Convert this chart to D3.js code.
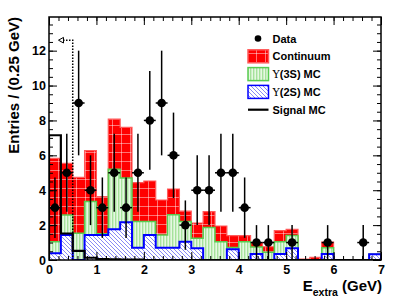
<!DOCTYPE html>
<html>
<head>
<meta charset="utf-8">
<script src="https://cdn.jsdelivr.net/npm/d3@7"></script>
<style>
  body { margin: 0; background: #fff; }
  svg text { font-family: "Liberation Sans", Arial, Helvetica, sans-serif; font-weight: bold; }
</style>
</head>
<body>
<svg id="chart" width="407" height="297"></svg>
<script>
// bin lower edges in GeV, 0.25 GeV wide
var binWidth = 0.25;
var binEdges = d3.range(28).map(function(i){ return i * binWidth; });

// observed events per bin
var dataCounts = [3,5,9,4,3,5,3,5,8,9,6,2,4,4,5,5,3,1,1,0,1,0,0,1,0,0,1,0];
// stacked backgrounds (components)
var continuum = [4.78,2.96,3.21,2.92,2.13,2.87,2.9,2.23,2.33,2.01,1.47,0.6,0.88,0.9,0.9,0.68,0.35,0.25,0.31,0.63,0.36,0.05,0.15,0.33,0,0,0,0];
var ups3S    = [0.67,1.15,1.53,1.92,0.07,3.44,2.54,1.5,0.77,0.73,1.9,1.15,0.57,1.87,1.05,0.1,1.05,0.4,0.45,0.7,0.73,0,0,0.35,0,0,0,0];
var ups2S    = [0.38,1.43,0,1.43,1.43,1.76,2.16,0.7,1.43,0.7,0.7,1.05,0.67,0,0,0.62,0,0.35,0,0.35,0.67,0,0,0.35,0,0,0,0.33];
var signalMC = [7.15,1.52,0.52,0.13,0.05,0.04,0.03,0.02,0,0,0,0,0,0,0,0,0,0,0,0,0,0,0,0,0,0,0,0];

var xTicks = [0,1,2,3,4,5,6,7];
var yTicks = [0,2,4,6,8,10,12];
var cutValue = 0.5, cutTop = 12.6, arrowEnd = 0.2;

var svg = d3.select('#chart');
var fLeft = 49, fRight = 381, fTop = 17, fBottom = 260;
var x = d3.scaleLinear().domain([0,7]).range([fLeft,fRight]);
var y = d3.scaleLinear().domain([0,13.93]).range([fBottom,fTop]);

// patterns
var defs = svg.append('defs');
var pRed = defs.append('pattern').attr('id','pRed').attr('patternUnits','userSpaceOnUse')
  .attr('width',9).attr('height',9).attr('x',fLeft).attr('y',fBottom);
pRed.append('rect').attr('width',9).attr('height',9).attr('fill','#ff0000');
pRed.append('path').attr('d','M0.5,0V9M0,0.5H9').attr('stroke','#ffffff').attr('stroke-opacity',0.45).attr('stroke-width',1);

var pGreen = defs.append('pattern').attr('id','pGreen').attr('patternUnits','userSpaceOnUse')
  .attr('width',3).attr('height',3).attr('x',fLeft);
pGreen.append('rect').attr('width',3).attr('height',3).attr('fill','#e6f8e2');
pGreen.append('rect').attr('width',1.4).attr('height',3).attr('fill','#a6e29c');

var pBlue = defs.append('pattern').attr('id','pBlue').attr('patternUnits','userSpaceOnUse')
  .attr('width',4).attr('height',4).attr('x',fLeft).attr('y',fBottom);
pBlue.append('rect').attr('width',4).attr('height',4).attr('fill','#ffffff');
pBlue.append('path').attr('d','M-1,-1L5,5M-1,3L1,5M3,-1L5,1').attr('stroke','#7a7af4').attr('stroke-width',0.9);

svg.append('clipPath').attr('id','frameClip').append('rect')
  .attr('x',fLeft).attr('y',fTop).attr('width',fRight-fLeft).attr('height',fBottom-fTop);

var plot = svg.append('g').attr('clip-path','url(#frameClip)');

function histPoints(vals){
  var pts = [[0,0]];
  vals.forEach(function(v,i){ pts.push([binEdges[i], v]); });
  pts.push([7, vals[vals.length-1]]);
  pts.push([7, 0]);
  return pts;
}
var area = d3.area().curve(d3.curveStepAfter)
  .x(function(d){return x(d[0]);}).y0(y(0)).y1(function(d){return y(d[1]);});
var line = d3.line().curve(d3.curveStepAfter)
  .x(function(d){return x(d[0]);}).y(function(d){return y(d[1]);});

var green = ups3S.map(function(v,i){ return v + ups2S[i]; });
var total = continuum.map(function(v,i){ return v + green[i]; });

var layers = [
  {vals: total, fill: 'url(#pRed)', stroke: '#ff5a5a', sw: 1.2},
  {vals: green, fill: 'url(#pGreen)', stroke: '#58cc50', sw: 1.5},
  {vals: ups2S, fill: 'url(#pBlue)', stroke: '#0000ff', sw: 2}
];
layers.forEach(function(l){
  var pts = histPoints(l.vals);
  plot.append('path').attr('d', area(pts)).attr('fill', l.fill);
  plot.append('path').attr('d', line(pts)).attr('fill','none')
    .attr('stroke', l.stroke).attr('stroke-width', l.sw);
});

// signal MC outline
plot.append('path').attr('d', line(histPoints(signalMC))).attr('fill','none')
  .attr('stroke','#000').attr('stroke-width',2.2);

// cut line with arrow
plot.append('path')
  .attr('d', 'M'+x(cutValue)+','+y(0)+'V'+y(cutTop)+'H'+(x(arrowEnd)+5))
  .attr('fill','none').attr('stroke','#000').attr('stroke-width',1.5).attr('stroke-dasharray','1.5,1.5');
plot.append('path')
  .attr('d', 'M'+x(arrowEnd)+','+y(cutTop)+'l5,-2.8v5.6z')
  .attr('fill','#fff').attr('stroke','#000').attr('stroke-width',1);

// data points
var pts = dataCounts.map(function(n,i){ return {x: binEdges[i] + binWidth/2, n: n, i: i}; })
  .filter(function(d){ return d.n > 0; });
var dg = plot.selectAll('.pt').data(pts).enter().append('g').attr('class','pt');
dg.append('line')
  .attr('x1',function(d){return x(d.x);}).attr('x2',function(d){return x(d.x);})
  .attr('y1',function(d){return y(d.n - Math.sqrt(d.n));}).attr('y2',function(d){return y(d.n + Math.sqrt(d.n));})
  .attr('stroke','#000').attr('stroke-width',1.5);
dg.append('line')
  .attr('x1',function(d){return x(binEdges[d.i]);}).attr('x2',function(d){return x(binEdges[d.i] + binWidth);})
  .attr('y1',function(d){return y(d.n);}).attr('y2',function(d){return y(d.n);})
  .attr('stroke','#000').attr('stroke-width',1.5);
dg.append('circle').attr('cx',function(d){return x(d.x);}).attr('cy',function(d){return y(d.n);})
  .attr('r',4.3).attr('fill','#000');

// axes, ticks inside like ROOT
function styleAxis(g){
  g.select('.domain').remove();
  g.selectAll('line').attr('stroke','#000').attr('stroke-width',1);
  g.selectAll('text').attr('fill','#000').style('font-size','12.5px');
}
var xMinor = d3.range(0,7.001,0.2), yMinor = d3.range(0,13.9,0.5);

svg.append('g').attr('transform','translate(0,'+fBottom+')')
  .call(d3.axisBottom(x).tickValues(xTicks).tickSize(-8).tickPadding(5).tickFormat(d3.format('d'))).call(styleAxis);
svg.append('g').attr('transform','translate(0,'+fBottom+')')
  .call(d3.axisBottom(x).tickValues(xMinor).tickSize(-4).tickFormat('')).call(styleAxis);
svg.append('g').attr('transform','translate(0,'+fTop+')')
  .call(d3.axisTop(x).tickValues(xTicks).tickSize(-8).tickFormat('')).call(styleAxis);
svg.append('g').attr('transform','translate(0,'+fTop+')')
  .call(d3.axisTop(x).tickValues(xMinor).tickSize(-4).tickFormat('')).call(styleAxis);

svg.append('g').attr('transform','translate('+fLeft+',0)')
  .call(d3.axisLeft(y).tickValues(yTicks).tickSize(-8).tickPadding(3).tickFormat(d3.format('d'))).call(styleAxis);
svg.append('g').attr('transform','translate('+fLeft+',0)')
  .call(d3.axisLeft(y).tickValues(yMinor).tickSize(-4).tickFormat('')).call(styleAxis);
svg.append('g').attr('transform','translate('+fRight+',0)')
  .call(d3.axisRight(y).tickValues(yTicks).tickSize(-8).tickFormat('')).call(styleAxis);
svg.append('g').attr('transform','translate('+fRight+',0)')
  .call(d3.axisRight(y).tickValues(yMinor).tickSize(-4).tickFormat('')).call(styleAxis);

svg.append('rect').attr('x',fLeft).attr('y',fTop).attr('width',fRight-fLeft).attr('height',fBottom-fTop)
  .attr('fill','none').attr('stroke','#000').attr('stroke-width',1.5);

// titles
svg.append('text').attr('transform','translate(19,'+fTop+') rotate(-90)')
  .attr('text-anchor','end').style('font-size','15px').text('Entries / (0.25 GeV)');
var xt = svg.append('text').attr('x',fRight+1).attr('y',291).attr('text-anchor','end').style('font-size','15px');
xt.append('tspan').text('E');
xt.append('tspan').attr('dy',5).style('font-size','10.5px').text('extra');
xt.append('tspan').attr('dy',-5).text(' (GeV)');

// legend
var legend = [
  {label: 'Data', type: 'point'},
  {label: 'Continuum', type: 'box', fill: 'url(#pRed)', stroke: '#ff5a5a'},
  {label: '(3S) MC', ups: true, type: 'box', fill: 'url(#pGreen)', stroke: '#58cc50'},
  {label: '(2S) MC', ups: true, type: 'box', fill: 'url(#pBlue)', stroke: '#0000ff'},
  {label: 'Signal MC', type: 'line'}
];
var lg = svg.append('g');
legend.forEach(function(d,i){
  var cy = 38.5 + i * 17.8;
  if (d.type === 'point') {
    lg.append('circle').attr('cx',258).attr('cy',cy).attr('r',3.3).attr('fill','#000');
  } else if (d.type === 'box') {
    lg.append('rect').attr('x',248).attr('y',cy-6.5).attr('width',20.5).attr('height',13)
      .attr('fill',d.fill).attr('stroke',d.stroke).attr('stroke-width',1.5);
  } else {
    lg.append('line').attr('x1',248).attr('x2',268.5).attr('y1',cy).attr('y2',cy)
      .attr('stroke','#000').attr('stroke-width',2.2);
  }
  var t = lg.append('text').attr('x',272.5).attr('y',cy+4).style('font-size','11px');
  if (d.ups) {
    t.append('tspan').style('font-weight','normal').style('font-family','"DejaVu Serif", serif').text('Υ');
  }
  t.append('tspan').text(d.label);
});
</script>
</body>
</html>
